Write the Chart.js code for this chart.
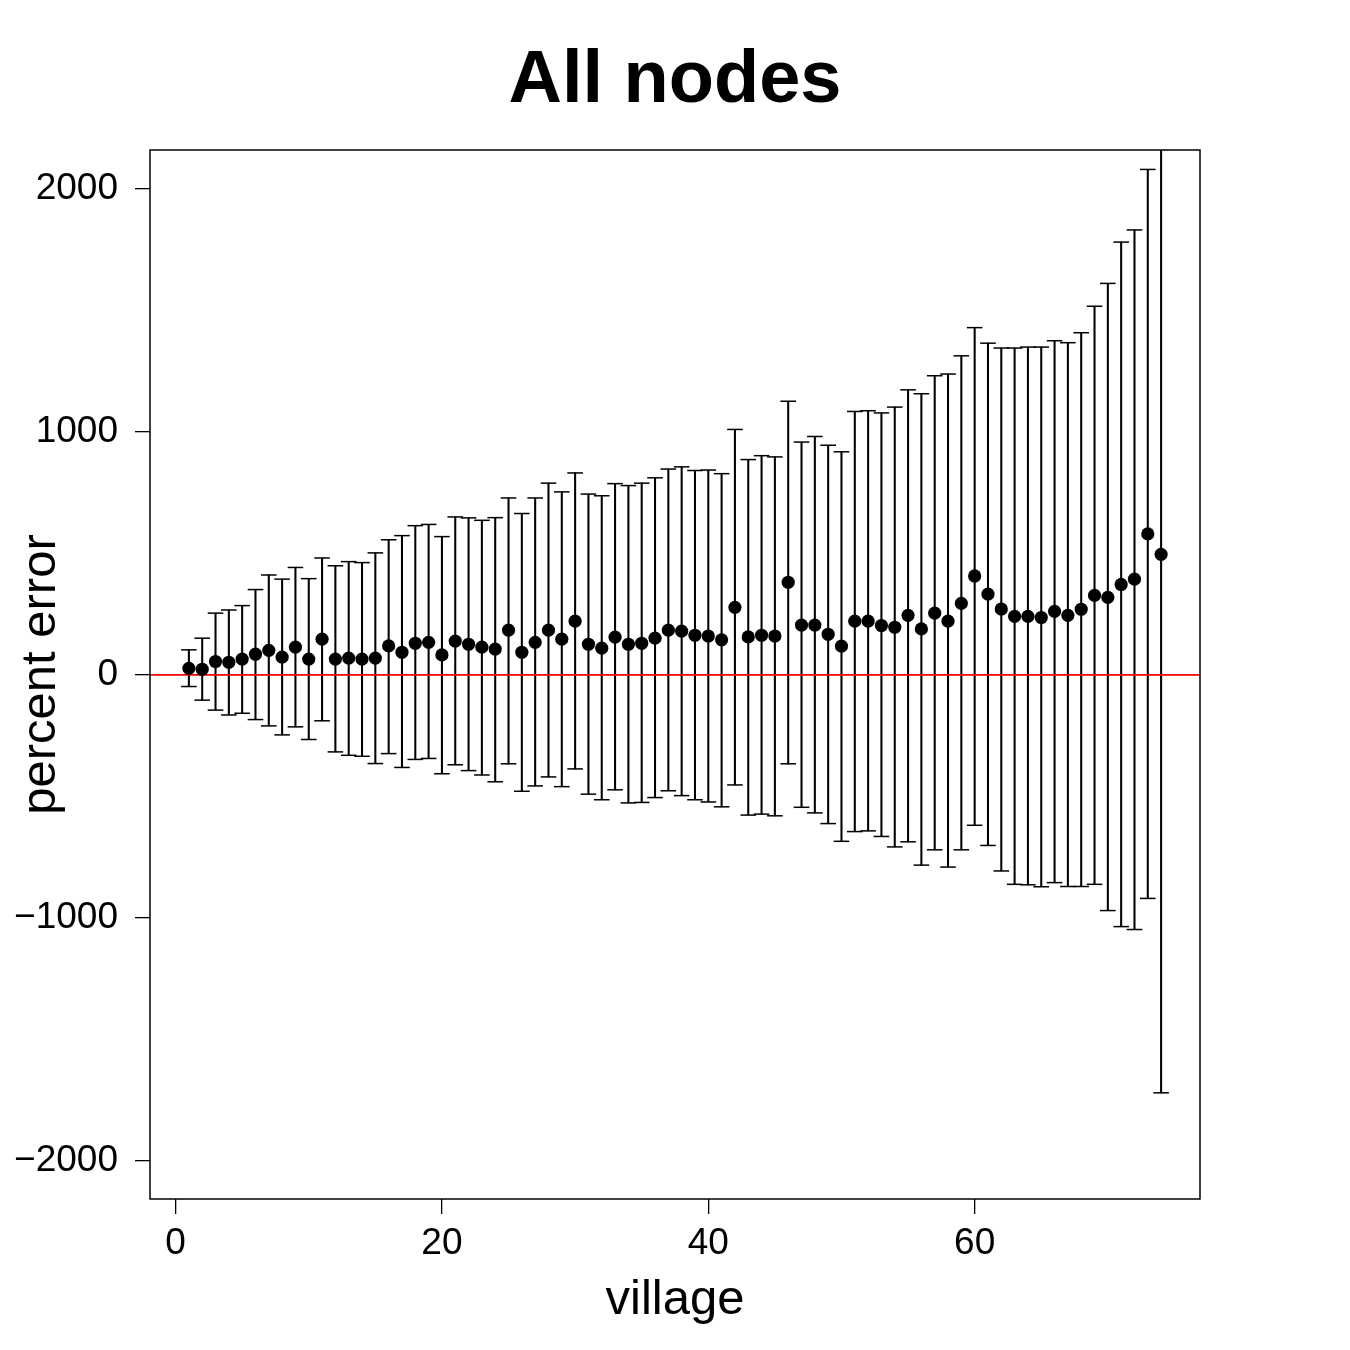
<!DOCTYPE html>
<html>
<head>
<meta charset="utf-8">
<script src="https://cdn.jsdelivr.net/npm/chart.js@4.4.1/dist/chart.umd.min.js"></script>
<style>
  html, body { margin: 0; padding: 0; background: #ffffff; }
  #wrap { width: 1350px; height: 1350px; }
</style>
</head>
<body>
<div id="wrap"><canvas id="c" width="1350" height="1350"></canvas></div>
<script>
// ---- data ----
const villages = Array.from({length: 74}, (_, i) => i + 1);
const meanError = [27, 23, 55, 52, 65, 85, 101, 73, 114, 65,
  147, 65, 69, 65, 69, 119, 93, 130, 134, 82,
  139, 126, 114, 106, 184, 93, 134, 184, 147, 221,
  126, 110, 155, 126, 130, 151, 184, 180, 163, 160,
  144, 278, 156, 163, 160, 381, 205, 205, 167, 118,
  221, 221, 203, 196, 245, 189, 254, 221, 294, 407,
  332, 271, 241, 241, 236, 261, 245, 270, 327, 319,
  372, 394, 580, 496];
const upperError = [103, 151, 254, 267, 285, 351, 411, 394, 442, 396,
  481, 449, 466, 462, 502, 556, 573, 614, 619, 569,
  650, 646, 636, 647, 728, 664, 728, 789, 753, 831,
  744, 737, 787, 779, 789, 811, 847, 856, 841, 843,
  828, 1010, 886, 902, 897, 1126, 958, 981, 945, 918,
  1084, 1087, 1078, 1102, 1173, 1157, 1231, 1238, 1313, 1429,
  1365, 1345, 1345, 1349, 1349, 1375, 1367, 1408, 1517, 1611,
  1781, 1831, 2080, 2712];
const lowerError = [-48, -104, -145, -165, -158, -184, -210, -247, -214, -266,
  -189, -317, -331, -335, -365, -324, -381, -348, -344, -407,
  -370, -394, -412, -440, -366, -479, -457, -420, -460, -387,
  -491, -514, -473, -527, -525, -505, -477, -497, -514, -523,
  -543, -453, -577, -573, -580, -366, -545, -568, -612, -685,
  -645, -642, -665, -708, -687, -783, -720, -791, -720, -619,
  -702, -807, -862, -864, -872, -855, -871, -871, -862, -970,
  -1036, -1048, -920, -1720];
const xTicks = [0, 20, 40, 60];
const yTicks = [-2000, -1000, 0, 1000, 2000];
const xRange = [-1.92, 76.92];
const yRange = [-2157, 2160];
const titleText = 'All nodes';
const xLabel = 'village';
const yLabel = 'percent error';

// ---- chart ----
const FONT = '"Liberation Sans", Arial, Helvetica, sans-serif';

const framePlugin = {
  id: 'frame',
  afterDraw(chart) {
    const ctx = chart.ctx;
    const a = chart.chartArea;
    ctx.save();
    ctx.strokeStyle = '#000';
    ctx.lineWidth = 1.5;
    ctx.strokeRect(a.left, a.top, a.right - a.left, a.bottom - a.top);
    ctx.fillStyle = '#000';
    ctx.textAlign = 'center';
    ctx.textBaseline = 'alphabetic';
    ctx.font = 'bold 74px ' + FONT;
    ctx.fillText(titleText, (a.left + a.right) / 2, 102);
    ctx.font = '49px ' + FONT;
    ctx.fillText(xLabel, (a.left + a.right) / 2, 1314);
    ctx.translate(55, (a.top + a.bottom) / 2);
    ctx.rotate(-Math.PI / 2);
    ctx.fillText(yLabel, 0, 0);
    ctx.restore();
  }
};

const fmt = v => (v < 0 ? '\u2212' + Math.abs(v) : String(v));

new Chart(document.getElementById('c'), {
  type: 'bar',
  data: {
    datasets: [
      {
        type: 'line',
        label: 'means',
        data: villages.map((v, i) => ({x: v, y: meanError[i]})),
        showLine: false,
        pointRadius: 6.6,
        pointBackgroundColor: '#000',
        pointBorderWidth: 0,
        order: 0
      },
      {
        type: 'line',
        label: 'zero',
        data: [{x: xRange[0], y: 0}, {x: xRange[1], y: 0}],
        borderColor: '#ff0000',
        borderWidth: 1.7,
        pointRadius: 0,
        order: 1
      },
      {
        type: 'line',
        label: 'caps',
        data: villages.map((v, i) => ({x: v, y: upperError[i]}))
          .concat(villages.map((v, i) => ({x: v, y: lowerError[i]}))),
        showLine: false,
        pointStyle: 'line',
        pointRadius: 7.8,
        pointBorderColor: '#000',
        pointBorderWidth: 1.5,
        order: 2
      },
      {
        type: 'bar',
        label: 'range',
        data: villages.map((v, i) => ({x: v, y: [lowerError[i], upperError[i]]})),
        backgroundColor: '#000',
        borderWidth: 0,
        barThickness: 1.4,
        grouped: false,
        order: 3
      }
    ]
  },
  options: {
    responsive: false,
    animation: false,
    devicePixelRatio: 1,
    layout: { padding: { top: 150, right: 150, left: 0, bottom: 0 } },
    plugins: { legend: { display: false }, tooltip: { enabled: false }, title: { display: false } },
    scales: {
      x: {
        type: 'linear',
        position: 'bottom',
        min: xRange[0],
        max: xRange[1],
        offset: false,
        afterBuildTicks: s => { s.ticks = xTicks.map(v => ({value: v})); },
        afterFit: s => { s.height = 151; },
        grid: { offset: false, drawOnChartArea: false, drawTicks: true, tickLength: 15, color: '#000', lineWidth: 1.3 },
        border: { display: false },
        ticks: { font: { size: 37, family: FONT }, color: '#000', padding: 8, maxRotation: 0, callback: fmt }
      },
      y: {
        type: 'linear',
        position: 'left',
        min: yRange[0],
        max: yRange[1],
        afterBuildTicks: s => { s.ticks = yTicks.map(v => ({value: v})); },
        afterFit: s => { s.width = 150; },
        grid: { offset: false, drawOnChartArea: false, drawTicks: true, tickLength: 15, color: '#000', lineWidth: 1.3 },
        border: { display: false },
        ticks: { font: { size: 37, family: FONT }, color: '#000', padding: 17, callback: fmt }
      }
    }
  },
  plugins: [framePlugin]
});
</script>
</body>
</html>
